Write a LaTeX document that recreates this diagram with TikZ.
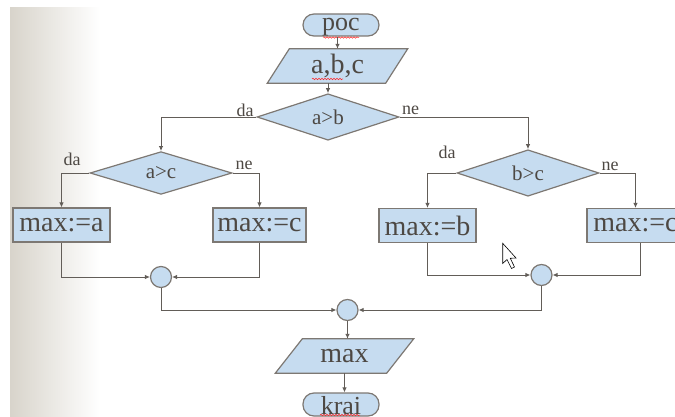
\documentclass[tikz,border=0pt]{standalone}
\usepackage{fontspec}
\setmainfont{Liberation Serif}
\usetikzlibrary{shapes.geometric,arrows.meta,backgrounds,decorations.pathmorphing}
\definecolor{nodefill}{HTML}{C6DCF0}
\definecolor{nodeline}{HTML}{7D7873}
\definecolor{conn}{HTML}{625D58}
\definecolor{txt}{HTML}{4D4843}
\definecolor{strip}{HTML}{D8D4CB}
\begin{document}
\begin{tikzpicture}[x=1pt,y=-1pt,
  shp/.style={draw=nodeline, fill=nodefill, line width=1.2pt},
  box/.style={shp, rectangle, minimum width=97pt, minimum height=34pt, inner sep=0pt,
    font=\fontsize{28}{28}\selectfont, text=txt},
  term/.style={shp, rectangle, rounded corners=11pt, minimum width=76pt, minimum height=22pt,
    inner sep=0pt, font=\fontsize{26}{26}\selectfont, text=txt},
  dec/.style={shp, diamond, minimum width=142pt, minimum height=40pt, inner sep=0pt,
    font=\fontsize{21}{21}\selectfont, text=txt},
  joint/.style={shp, circle, minimum size=21pt, inner sep=0pt},
  iotext/.style={rectangle, inner sep=0pt, minimum height=34pt,
    font=\fontsize{28}{28}\selectfont, text=txt},
  iopoly/.style={shp, line join=miter},
  arr/.style={draw=conn, line width=0.9pt, -{Latex[length=5pt,width=4.5pt]}},
  lbl/.style={font=\fontsize{18}{18}\selectfont, text=txt, inner sep=0pt},
  squig/.style={draw=red!85, line width=0.5pt, decorate,
    decoration={snake, amplitude=0.8pt, segment length=3pt}}
]
\useasboundingbox (0,0) rectangle (675,417);
\clip (0,0) rectangle (675,417);

% nodes
\node[term, text height=16pt, text depth=4pt] (poc) at (341,25) {poc};
\node[iotext, minimum width=140pt] (abc) at (337.5,66) {a,b,c};
\node[dec] (dab) at (328,117) {a>b};
\node[dec] (dac) at (161,173) {a>c};
\node[dec] (dbc) at (528,173) {b>c};
\node[box] (ma) at (61.5,225) {max:=a};
\node[box, minimum width=93pt] (mc1) at (259.5,225) {max:=c};
\node[box] (mb) at (427.5,225.5) {max:=b};
\node[box] (mc2) at (635.5,225.5) {max:=c};
\node[joint] (c1) at (161,277) {};
\node[joint] (c2) at (541.5,275) {};
\node[joint] (c3) at (347.5,310) {};
\node[iotext, minimum width=138pt] (maxo) at (344.5,356) {max};
\node[term, minimum height=23pt, text height=20pt, text depth=0pt] (krai) at (341,404.5) {krai};

% background: strip and parallelograms
\begin{pgfonlayer}{background}
  \shade[left color=strip, right color=white] (10,8) rectangle (100,417);
  \path[iopoly] (abc.south west) -- ([xshift=-22pt]abc.south east) -- (abc.north east)
    -- ([xshift=22pt]abc.north west) -- cycle;
  \path[iopoly] (maxo.south west) -- ([xshift=-27pt]maxo.south east) -- (maxo.north east)
    -- ([xshift=27pt]maxo.north west) -- cycle;
\end{pgfonlayer}

% spell-check squiggles
\draw[squig] (323,37.5) -- (359,37.5);
\draw[squig] (312,79) -- (343,79);
\draw[squig] (320,415) -- (360,415);

% connectors
\draw[arr] (poc.south -| abc.north) -- (abc.north);
\draw[arr] (abc.south -| dab.north) -- (dab.north);
\draw[arr] (dab.west) -| (dac.north);
\draw[arr] (dab.east) -| (dbc.north);
\draw[arr] (dac.west) -| (ma.north);
\draw[arr] (dac.east) -| (mc1.north);
\draw[arr] (dbc.west) -| (mb.north);
\draw[arr] (dbc.east) -| (mc2.north);
\draw[arr] (ma.south) |- (c1.west);
\draw[arr] (mc1.south) |- (c1.east);
\draw[arr] (mb.south) |- (c2.west);
\draw[arr] ([xshift=5pt]mc2.south) |- (c2.east);
\draw[arr] (c1.south) |- (c3.west);
\draw[arr] (c2.south) |- (c3.east);
\draw[arr] (c3.south) -- (c3.south |- maxo.north);
\draw[arr] (maxo.south) -- (maxo.south |- krai.north);

% branch labels
\node[lbl] (l1) at (245,110) {da};
\node[lbl] (l2) at (410.5,110) {ne};
\node[lbl] (l3) at (72,159) {da};
\node[lbl] (l4) at (244,165) {ne};
\node[lbl] (l5) at (447,152) {da};
\node[lbl] (l6) at (610,166) {ne};

% mouse cursor
\draw[black, fill=white, line width=0.6pt, line join=miter] (502.7,243.3) -- (502.7,263.5)
  -- (507,259.5) -- (511.5,268.5) -- (514.5,267) -- (510.3,258.3) -- (516,258) -- cycle;
\end{tikzpicture}
\end{document}
